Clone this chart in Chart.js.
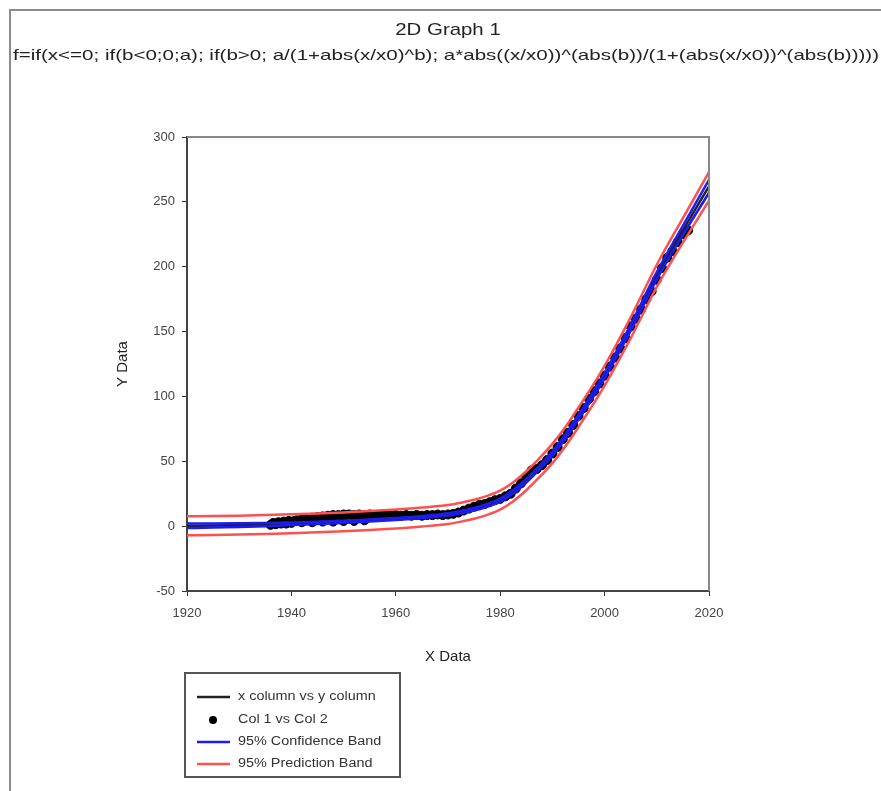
<!DOCTYPE html>
<html>
<head>
<meta charset="utf-8">
<script src="https://cdn.jsdelivr.net/npm/chart.js@4.4.1/dist/chart.umd.min.js"></script>
<style>
  html, body { margin: 0; padding: 0; background: #fff; }
</style>
</head>
<body>
<canvas id="grafica" width="881" height="791"></canvas>
<script>
const titulo = '2D Graph 1';
const formula = 'f=if(x<=0; if(b<0;0;a); if(b>0; a/(1+abs(x/x0)^b); a*abs((x/x0))^(abs(b))/(1+(abs(x/x0))^(abs(b)))))';

const xTicks = [1920, 1940, 1960, 1980, 2000, 2020];
const yTicks = [-50, 0, 50, 100, 150, 200, 250, 300];

// curva ajustada y bandas
const anosCurva = [1920,1925,1930,1935,1940,1945,1950,1955,1960,1965,
  1970,1972.5,1975,1977.5,1980,1982.5,1985,1987.5,1990,1992.5,
  1995,1997.5,2000,2005,2010,2015,2020];
const ajuste  = [0.3,0.5,0.8,1.2,1.8,2.5,3.3,4.3,5.5,7,
  9,10.8,13,16,20,26.5,35,45,56,69,
  84,99.5,116,153,193,228,262];
const confSup = [2.1,2.1,2.2,2.4,2.8,3.4,4.1,5.1,6.3,7.8,
  9.9,11.75,14,17.1,21.2,27.8,36.4,46.5,57.6,70.7,
  85.8,101.4,118,155.3,195.8,231.5,267];
const confInf = [-1.5,-1.1,-0.6,0,0.8,1.6,2.5,3.5,4.7,6.2,
  8.1,9.85,12,14.9,18.8,25.2,33.6,43.5,54.4,67.3,
  82.2,97.6,114,150.7,190.2,224.5,257];
const predSup = [7.6,7.8,8.1,8.5,9.1,9.8,10.6,11.6,12.8,14.3,
  16.3,18.1,20.3,23.3,27.3,33.8,42.3,52.3,63.4,76.4,
  91.5,107,123.6,161,201.5,237.5,273];
const predInf = [-7,-6.8,-6.5,-6.1,-5.5,-4.8,-4,-3,-1.8,-0.3,
  1.7,3.5,5.7,8.7,12.7,19.2,27.7,37.7,48.6,61.6,
  76.5,92,108.4,145,184.5,218.5,251];

// puntos medidos (Col 1 vs Col 2)
const col1 = [1936,1936.5,1937,1937.5,1938,1938.5,1939,1939.5,1940,1940.5,
  1941,1942,1942,1943,1944,1944,1945,1946,1946,1947,
  1948,1948,1949,1950,1950,1951,1952,1952,1953,1954,
  1954,1955,1956,1957,1958,1959,1960,1961,1962,1963,
  1964,1965,1966,1967,1968,1969,1970,1971,1972,1973,
  1974,1975,1976,1977,1978,1979,1980,1981,1982,1983,
  1984,1985,1986,1987,1988,1989,1990,1991,1992,1993,
  1994,1995,1996,1997,1998,1999,2000,2001,2002,2003,
  2004,2005,2006,2007,2008,2009,2010,2011,2012,2013,
  2014,2015,2016];
const col2 = [1,2.5,1.5,3,2,3.5,2,4,2.5,4,
  4.5,3,5.5,6,3,6.5,7,3.5,7.5,8,
  3.5,8.5,8.5,4,9,9,4,8.5,9,4.5,
  8.5,9,8.5,8.5,9,8.5,8.5,8,8.5,8,
  8.5,8,8.5,8.5,9,8.5,9,9.5,10.5,12,
  13.5,15,16.5,17,18.5,20,21,23,25,29,
  33,38,43,44,47,51,56,61,67,72,
  78,85,91,98,104,110,116,123,130,137,
  145,154,160,167,175,181,190,199,207,212,
  219,225,228];

const azul = '#1c1cf0';
const rojo = '#ff5050';
const fuente = '"Liberation Sans", Arial, sans-serif';

function pares(xs, ys) {
  return xs.map((x, i) => ({ x: x, y: ys[i] }));
}

function linea(label, datos, color, orden) {
  return {
    type: 'line', label: label, data: pares(anosCurva, datos),
    borderColor: color, borderWidth: 2.5, pointRadius: 0,
    cubicInterpolationMode: 'monotone', fill: false, order: orden
  };
}

function textoEstirado(ctx, txt, x, y, sx) {
  ctx.save();
  ctx.translate(x, y);
  ctx.scale(sx, 1);
  ctx.fillText(txt, 0, 0);
  ctx.restore();
}

const marco = {
  id: 'marco',
  afterDraw(chart) {
    const ctx = chart.ctx;
    const a = chart.chartArea;
    ctx.save();
    // borde exterior
    ctx.strokeStyle = '#8c8c8c';
    ctx.lineWidth = 2;
    ctx.beginPath();
    ctx.moveTo(10, 791); ctx.lineTo(10, 10); ctx.lineTo(881, 10);
    ctx.stroke();
    // lados superior y derecho del area
    ctx.strokeStyle = '#888';
    ctx.beginPath();
    ctx.moveTo(a.left, a.top); ctx.lineTo(a.right, a.top); ctx.lineTo(a.right, a.bottom);
    ctx.stroke();

    // titulos
    ctx.fillStyle = '#222';
    ctx.textBaseline = 'middle';
    ctx.textAlign = 'center';
    ctx.font = '17px ' + fuente;
    textoEstirado(ctx, titulo, 448, 30, 1.2);
    ctx.textAlign = 'left';
    ctx.font = '15px ' + fuente;
    const w = ctx.measureText(formula).width;
    textoEstirado(ctx, formula, 13, 56, 866 / w);

    // leyenda
    ctx.strokeStyle = '#555';
    ctx.lineWidth = 2;
    ctx.strokeRect(185, 673, 215, 104);
    const filas = [697, 720, 742, 764];
    const ds = chart.data.datasets;
    const items = [ds[0], ds[1], ds[2], ds[4]];
    ctx.font = '12px ' + fuente;
    items.forEach((d, i) => {
      const y = filas[i];
      if (d.type === 'scatter') {
        ctx.fillStyle = '#000';
        ctx.beginPath(); ctx.arc(213, y, 4, 0, Math.PI * 2); ctx.fill();
      } else {
        ctx.strokeStyle = d.borderColor;
        ctx.lineWidth = 2.5;
        ctx.beginPath(); ctx.moveTo(197, y); ctx.lineTo(230, y); ctx.stroke();
      }
      ctx.fillStyle = '#333';
      textoEstirado(ctx, d.label, 238, y, 1.2);
    });
    ctx.restore();
  }
};

new Chart(document.getElementById('grafica'), {
  data: {
    datasets: [
      linea('x column vs y column', ajuste, '#222', 2),
      {
        type: 'scatter', label: 'Col 1 vs Col 2', data: pares(col1, col2),
        backgroundColor: '#000', borderColor: '#000', pointRadius: 4.5, order: 3
      },
      linea('95% Confidence Band', confSup, azul, 1),
      linea('95% Confidence Band', confInf, azul, 1),
      linea('95% Prediction Band', predSup, rojo, 0),
      linea('95% Prediction Band', predInf, rojo, 0)
    ]
  },
  options: {
    responsive: false,
    animation: false,
    layout: { padding: { left: 110, right: 172, top: 137, bottom: 125 } },
    plugins: { legend: { display: false }, tooltip: { enabled: false } },
    scales: {
      x: {
        type: 'linear', min: 1920, max: 2020,
        afterBuildTicks: s => { s.ticks = xTicks.map(v => ({ value: v })); },
        afterFit: s => { s.height = 75; },
        grid: { drawOnChartArea: false, tickLength: 5, color: '#333' },
        border: { color: '#444', width: 2 },
        ticks: { padding: 10, color: '#444', font: { family: fuente, size: 13 }, callback: v => String(v) },
        title: { display: true, text: 'X Data', color: '#222', padding: 0, font: { family: fuente, size: 15 } }
      },
      y: {
        type: 'linear', min: -50, max: 300,
        afterBuildTicks: s => { s.ticks = yTicks.map(v => ({ value: v })); },
        afterFit: s => { s.width = 77; },
        grid: { drawOnChartArea: false, tickLength: 5, color: '#333' },
        border: { color: '#444', width: 2 },
        ticks: { padding: 7, color: '#444', font: { family: fuente, size: 13 }, callback: v => String(v) },
        title: { display: true, text: 'Y Data', color: '#222', padding: { top: 4, bottom: 0 }, font: { family: fuente, size: 15 } }
      }
    }
  },
  plugins: [marco]
});
</script>
</body>
</html>
